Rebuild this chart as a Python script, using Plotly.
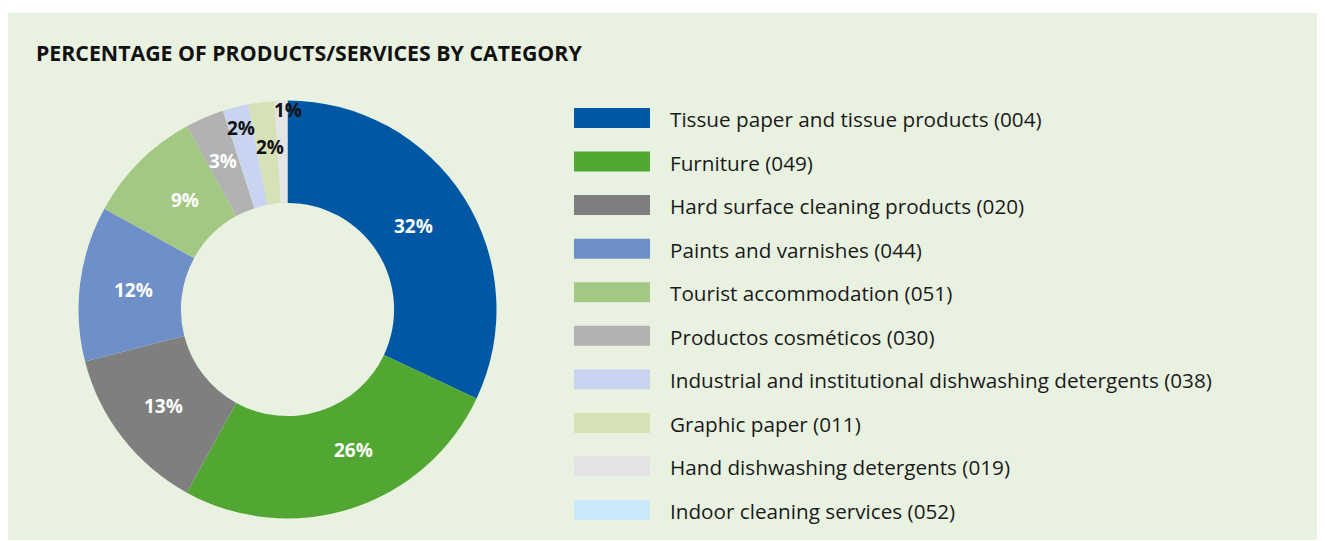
import math
import plotly.graph_objects as go

# page is offset by the 8px body margin; figure covers page x 8..1325, y 8..541
OFF = 8
W, H = 1325 - OFF, 541 - OFF

categories = [
    "Tissue paper and tissue products (004)",
    "Furniture (049)",
    "Hard surface cleaning products (020)",
    "Paints and varnishes (044)",
    "Tourist accommodation (051)",
    "Productos cosméticos (030)",
    "Industrial and institutional dishwashing detergents (038)",
    "Graphic paper (011)",
    "Hand dishwashing detergents (019)",
    "Indoor cleaning services (052)",
]
values = [32, 26, 13, 12, 9, 3, 2, 2, 1, 0]
label_texts = ["32%", "26%", "13%", "12%", "9%", "3%", "2%", "2%", "1%", ""]

colors = ["#0057A3", "#52A733", "#7F7F7F", "#6E8FC8", "#A3C883",
          "#B2B2B2", "#C9D5F0", "#D6E1B6", "#E4E4E4", "#CBE8FA"]
label_colors = ["white"] * 6 + ["#111111"] * 4
label_radius = [151, 155, 157, 155, 150, 162, 187, 163, 200, 160]
label_angle_shift = [-1, -7, 0, 0, 2, 0, 0, 1, 2, 0]


def fx(px):
    return (px - OFF) / W


def fy(py):
    return 1 - (py - OFF) / H


# geometry (page pixels)
cx, cy, R = 287.5, 309.5, 209
hole = 0.51

fig = go.Figure(go.Pie(
    values=values,
    labels=categories,
    marker=dict(colors=colors, line=dict(width=0)),
    hole=hole,
    sort=False,
    direction="clockwise",
    rotation=0,
    textinfo="none",
    hoverinfo="label+percent",
    showlegend=False,
    domain=dict(x=[fx(cx - R), fx(cx + R)],
                y=[fy(cy + R), fy(cy - R)]),
))

shapes = [dict(type="rect", xref="paper", yref="paper",
               x0=fx(7), x1=1.0, y0=fy(540), y1=fy(13),
               fillcolor="#E9F2E1", line=dict(width=0), layer="below")]
annotations = [dict(text="<b>PERCENTAGE OF PRODUCTS/SERVICES BY CATEGORY</b>",
                    xref="paper", yref="paper", x=fx(34), y=fy(53),
                    xanchor="left", yanchor="middle", showarrow=False,
                    font=dict(family="Open Sans", size=21.3, color="#111111"))]

# data labels from cumulative angles
total = sum(values)
cum = 0
for v, t, c, r, sh in zip(values, label_texts, label_colors, label_radius, label_angle_shift):
    mid = (cum + v / 2) / total * 2 * math.pi + math.radians(sh)
    cum += v
    if not t:
        continue
    px = cx + r * math.sin(mid)
    py = cy - r * math.cos(mid)
    annotations.append(dict(text=f"<b>{t}</b>", xref="paper", yref="paper",
                            x=fx(px), y=fy(py), xanchor="center", yanchor="middle",
                            showarrow=False,
                            font=dict(family="Open Sans", size=19, color=c)))

# custom legend
leg_y0, leg_dy = 118, 43.56
for i, (name, col) in enumerate(zip(categories, colors)):
    yc = leg_y0 + i * leg_dy
    shapes.append(dict(type="rect", xref="paper", yref="paper",
                       x0=fx(574), x1=fx(650), y0=fy(yc + 10), y1=fy(yc - 10),
                       fillcolor=col, line=dict(width=0)))
    annotations.append(dict(text=name, xref="paper", yref="paper",
                            x=fx(668), y=fy(yc + 1), xanchor="left", yanchor="middle",
                            showarrow=False,
                            font=dict(family="Open Sans", size=20.7, color="#1a1a1a")))

fig.update_layout(
    width=W, height=H,
    margin=dict(l=0, r=0, t=0, b=0),
    paper_bgcolor="white",
    plot_bgcolor="rgba(0,0,0,0)",
    shapes=shapes,
    annotations=annotations,
)

fig.write_html("out.html")
